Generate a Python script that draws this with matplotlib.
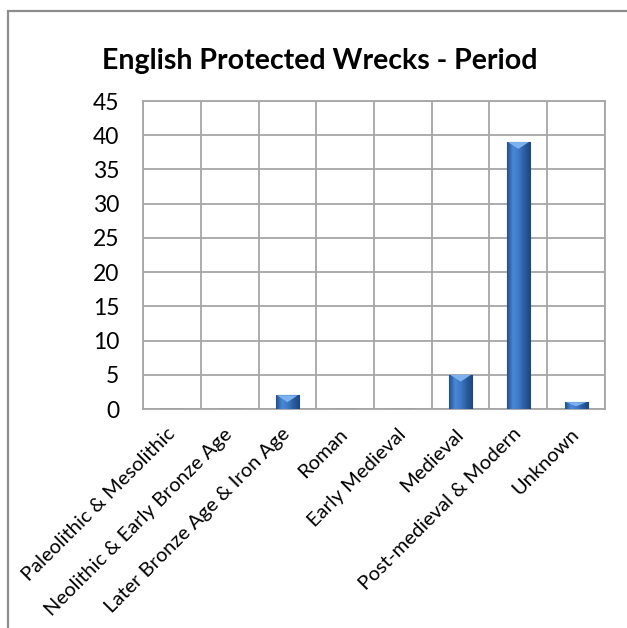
import numpy as np
import matplotlib
matplotlib.use("Agg")
import matplotlib.pyplot as plt
from matplotlib.colors import LinearSegmentedColormap
from matplotlib.patches import Polygon, Rectangle

plt.rcParams['font.family'] = ['Lato', 'DejaVu Sans']

categories = ["Paleolithic & Mesolithic", "Neolithic & Early Bronze Age",
              "Later Bronze Age & Iron Age", "Roman", "Early Medieval",
              "Medieval", "Post-medieval & Modern", "Unknown"]
counts = [0, 0, 2, 0, 0, 5, 39, 1]
yticks = [0, 5, 10, 15, 20, 25, 30, 35, 40, 45]

fig = plt.figure(figsize=(6.27, 6.28), dpi=100)
ax = fig.add_axes([143 / 627, 1 - 409 / 628, 462 / 627, 308 / 628])

# outer chart frame (only left/top edges fall inside the picture)
fig.patches.append(Rectangle((8 / 627, -0.05), 1.2, 1 - 11 / 628 + 0.05,
                             transform=fig.transFigure, fill=False,
                             edgecolor='#8c8c8c', lw=1.6))

x = np.arange(len(categories))
w = 0.4
bars = ax.bar(x, counts, width=w, color='#3a6fb5', edgecolor='#1f4a85',
              lw=0.8, zorder=3)

cmap = LinearSegmentedColormap.from_list(
    "barshade", ["#21508f", "#4a88d6", "#3d78c4", "#2a5b9e", "#1c467f"])
grad = np.linspace(0, 1, 64).reshape(1, -1)
for b, h in zip(bars, counts):
    if h <= 0:
        continue
    x0 = b.get_x()
    x1 = x0 + b.get_width()
    im = ax.imshow(grad, cmap=cmap, extent=[x0, x1, 0, h], aspect='auto',
                   zorder=3.5, interpolation='bilinear')
    im.set_clip_path(b)
    d = min(1.0, h * 0.6)
    ax.add_patch(Polygon([(x0 + 0.02, h), (x1 - 0.02, h), ((x0 + x1) / 2, h - d)],
                         closed=True, color='#7db2ee', lw=0, zorder=4))

ax.set_xlim(-0.5, len(categories) - 0.5)
ax.set_ylim(0, 45)
ax.set_yticks(yticks)
ax.set_xticks(x)
ax.set_xticklabels(categories, rotation=45, ha='right', va='center',
                   rotation_mode='anchor', fontsize=14.5)
ax.tick_params(axis='y', length=0, pad=17, labelsize=16.5)
ax.tick_params(axis='x', length=0, pad=16)

ax.set_xticks(np.arange(len(categories) + 1) - 0.5, minor=True)
ax.tick_params(axis='x', which='minor', length=0)
ax.grid(True, axis='y', color='#a6a6a6', lw=1.3, zorder=1)
ax.grid(True, axis='x', which='minor', color='#a6a6a6', lw=1.3, zorder=1)
ax.grid(False, axis='x', which='major')
for s in ax.spines.values():
    s.set_color('#a6a6a6')
    s.set_linewidth(1.3)

fig.text(0.51, 0.903, "English Protected Wrecks - Period", ha='center',
         va='center', fontsize=20.5, fontweight='bold')

fig.savefig("out.png", dpi=100)
